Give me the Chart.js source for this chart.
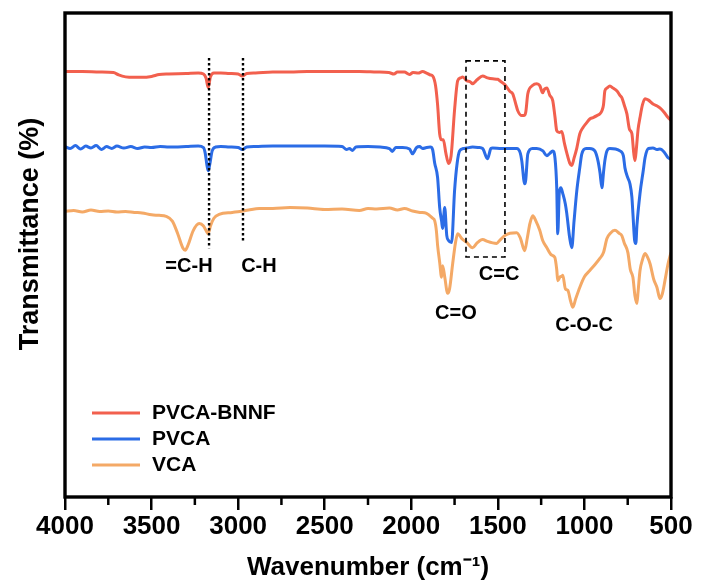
<!DOCTYPE html>
<html>
<head>
<meta charset="utf-8">
<script src="https://cdn.jsdelivr.net/npm/chart.js@4.4.1/dist/chart.umd.min.js"></script>
<style>
  html, body { margin: 0; padding: 0; background: #fff; }
  #wrap { width: 701px; height: 585px; }
</style>
</head>
<body>
<div id="wrap"><canvas id="ftirChart"></canvas></div>
<script>
// [wavenumber (cm-1), transmittance (a.u., offset for stacking)]
const pvcaBnnf = [
  [4000, 87.9], [3900, 87.9], [3800, 87.8], [3720, 87.7], [3690, 87.2], [3650, 86.8], [3600, 86.7],
  [3555, 86.7], [3500, 86.9], [3456, 87.3], [3400, 87.4], [3300, 87.5], [3230, 87.6], [3200, 87.4],
  [3185, 86.5], [3173, 84.6], [3160, 86.8], [3140, 87.6], [3100, 87.6], [3050, 87.5], [3000, 87.4],
  [2976, 87.0], [2950, 87.5], [2900, 87.6], [2800, 87.8], [2700, 87.8], [2600, 87.9], [2500, 87.9],
  [2400, 87.9], [2300, 87.9], [2200, 87.8], [2130, 87.7], [2100, 87.4], [2080, 87.8], [2040, 87.8],
  [2010, 87.3], [1990, 87.7], [1960, 87.6], [1935, 87.9], [1912, 87.6], [1890, 87.2], [1877, 87.0],
  [1860, 85.0], [1848, 81.0], [1836, 75.0], [1825, 73.8], [1815, 73.8], [1800, 71.0], [1785, 68.9],
  [1770, 70.5], [1750, 80.0], [1732, 86.0], [1715, 86.6], [1703, 86.8], [1680, 86.0], [1660, 85.8],
  [1646, 85.4], [1620, 86.2], [1588, 87.0], [1560, 86.6], [1530, 86.4], [1500, 86.3], [1489, 86.0],
  [1460, 85.2], [1430, 83.8], [1414, 83.3], [1395, 81.0], [1385, 79.8], [1362, 78.8], [1350, 78.8],
  [1339, 79.5], [1327, 83.3], [1300, 85.0], [1275, 85.4], [1258, 85.0], [1241, 83.5], [1230, 84.3],
  [1217, 84.5], [1200, 83.0], [1183, 81.9], [1170, 78.5], [1160, 75.7], [1145, 75.3], [1131, 75.5],
  [1115, 73.0], [1102, 71.1], [1085, 69.0], [1073, 68.5], [1060, 70.0], [1044, 72.1], [1027, 75.0],
  [1009, 76.3], [990, 77.2], [969, 78.1], [950, 78.4], [928, 78.8], [910, 79.2], [899, 79.8],
  [890, 81.0], [882, 83.9], [870, 84.5], [853, 84.9], [835, 84.5], [812, 83.9], [795, 83.0],
  [784, 82.5], [770, 81.0], [755, 79.2], [740, 76.0], [726, 75.1], [715, 71.0], [708, 69.5],
  [700, 72.0], [690, 76.0], [679, 78.4], [665, 81.0], [650, 82.3], [630, 82.0], [604, 81.2],
  [580, 80.8], [564, 80.4], [540, 79.5], [517, 78.4], [500, 77.8]
];
const pvca = [
  [4000, 72.4], [3970, 72.0], [3940, 72.6], [3910, 71.9], [3880, 72.5], [3850, 72.1], [3820, 72.6],
  [3790, 71.8], [3760, 72.4], [3730, 72.0], [3700, 72.5], [3660, 72.1], [3620, 72.4], [3580, 72.0],
  [3540, 72.3], [3500, 72.2], [3450, 72.4], [3400, 72.3], [3300, 72.4], [3230, 72.5], [3200, 72.2],
  [3190, 71.0], [3180, 68.5], [3173, 67.4], [3165, 68.5], [3150, 71.5], [3130, 72.3], [3100, 72.4],
  [3050, 72.3], [3000, 72.2], [2976, 71.8], [2950, 72.3], [2900, 72.4], [2800, 72.5], [2700, 72.5],
  [2600, 72.5], [2500, 72.5], [2400, 72.4], [2374, 71.8], [2357, 72.0], [2340, 71.6], [2320, 72.3],
  [2250, 72.4], [2180, 72.3], [2126, 72.0], [2110, 71.4], [2090, 72.2], [2050, 72.2], [2010, 71.9],
  [1993, 70.9], [1970, 72.2], [1952, 72.4], [1935, 72.0], [1912, 72.2], [1890, 72.3], [1877, 71.8],
  [1865, 69.0], [1848, 66.0], [1836, 59.8], [1825, 57.0], [1819, 55.5], [1807, 59.8], [1795, 54.0],
  [1785, 53.0], [1767, 52.6], [1750, 63.3], [1735, 69.0], [1721, 71.5], [1700, 72.0], [1680, 72.1],
  [1646, 72.3], [1610, 72.2], [1588, 72.0], [1560, 69.9], [1540, 72.0], [1530, 72.1], [1480, 72.0],
  [1430, 72.0], [1391, 72.0], [1370, 71.0], [1362, 69.5], [1345, 64.7], [1339, 65.5], [1327, 70.9],
  [1300, 72.0], [1275, 72.0], [1240, 71.5], [1217, 70.5], [1200, 71.0], [1183, 71.5], [1170, 70.0],
  [1160, 63.9], [1154, 54.4], [1145, 63.0], [1136, 63.9], [1125, 62.7], [1110, 60.5], [1102, 58.6],
  [1085, 53.5], [1073, 51.5], [1060, 57.0], [1044, 63.3], [1027, 68.0], [1015, 70.9], [990, 72.0],
  [969, 72.0], [940, 71.5], [922, 69.5], [910, 67.0], [899, 63.9], [890, 67.0], [882, 69.5],
  [870, 71.5], [853, 72.0], [820, 71.9], [795, 71.5], [775, 70.5], [766, 68.0], [750, 66.0],
  [737, 64.7], [726, 62.0], [720, 58.6], [710, 53.0], [703, 52.4], [697, 56.0], [679, 62.7],
  [660, 67.5], [650, 70.1], [630, 72.0], [604, 72.1], [581, 71.8], [564, 71.9], [540, 71.3],
  [517, 70.1], [500, 69.8]
];
const vca = [
  [4000, 59.0], [3950, 59.2], [3900, 58.9], [3850, 59.3], [3800, 59.0], [3750, 59.1], [3700, 58.9],
  [3650, 59.0], [3600, 58.8], [3555, 58.7], [3500, 58.3], [3456, 58.2], [3416, 58.0], [3380, 57.0],
  [3350, 54.5], [3320, 51.5], [3306, 51.0], [3290, 52.0], [3260, 55.0], [3225, 56.5], [3200, 56.0],
  [3185, 55.0], [3173, 54.4], [3160, 56.0], [3140, 57.6], [3110, 58.4], [3034, 58.8], [2990, 59.0],
  [2940, 59.3], [2878, 59.6], [2800, 59.6], [2700, 59.8], [2600, 59.7], [2500, 59.4], [2400, 59.5],
  [2300, 59.2], [2250, 59.6], [2200, 59.5], [2126, 59.7], [2080, 59.3], [2040, 59.6], [1993, 59.1],
  [1950, 58.8], [1912, 58.6], [1877, 57.6], [1865, 57.1], [1855, 55.0], [1848, 52.0], [1836, 48.5],
  [1825, 45.4], [1819, 47.8], [1807, 45.5], [1790, 42.1], [1779, 43.0], [1761, 48.2], [1745, 52.5],
  [1732, 54.4], [1720, 54.0], [1709, 53.4], [1680, 52.6], [1646, 51.5], [1620, 52.5], [1588, 53.2],
  [1560, 52.8], [1530, 52.5], [1507, 52.4], [1490, 53.0], [1460, 54.0], [1430, 54.5], [1391, 54.6],
  [1370, 53.5], [1345, 50.9], [1330, 53.5], [1315, 56.5], [1298, 58.1], [1280, 57.0], [1258, 55.1],
  [1241, 53.0], [1217, 51.5], [1190, 50.0], [1171, 49.5], [1160, 47.0], [1154, 44.7], [1140, 45.5],
  [1131, 45.6], [1125, 45.8], [1110, 43.0], [1096, 42.7], [1080, 40.5], [1067, 39.2], [1050, 41.0],
  [1027, 43.3], [1000, 45.5], [969, 46.8], [940, 48.0], [911, 49.3], [890, 50.5], [870, 53.4],
  [850, 54.5], [824, 55.1], [800, 54.5], [784, 54.0], [770, 52.5], [749, 50.5], [735, 47.0],
  [720, 45.4], [708, 41.5], [697, 40.0], [690, 42.5], [679, 46.8], [665, 49.0], [650, 50.3],
  [635, 49.5], [621, 48.2], [600, 45.0], [581, 43.3], [564, 41.0], [550, 42.0], [535, 44.7],
  [517, 48.2], [500, 50.5]
];

const seriesNames = ['PVCA-BNNF', 'PVCA', 'VCA'];
const seriesColors = ['#F2604E', '#2B6CE6', '#F4A966'];
const minorTicks = [3750, 3250, 2750, 2250, 1750, 1250, 750];

// peak annotations (data units)
const markerWn = [3168, 2972];
const markerTop = [90.7, 90.7];
const markerBottom = [51.4, 52.5];
const boxWn = [1684, 1459];
const boxT = [90.1, 49.6];
const peakLabels = ['=C-H', 'C-H', 'C=C', 'C=O', 'C-O-C'];
const peakLabelWn = [3284, 2880, 1493, 1742, 1002];
const peakLabelT = [47.7, 47.7, 45.9, 38.0, 35.5];

const FONT = 'Arial, "Liberation Sans", Helvetica, sans-serif';

const decor = {
  id: 'decor',
  afterDatasetsDraw(chart) {
    const { ctx, chartArea: a, scales: { x, y } } = chart;
    ctx.save();
    ctx.strokeStyle = '#000';
    ctx.fillStyle = '#000';

    // minor ticks
    ctx.lineWidth = 2.5;
    minorTicks.forEach(w => {
      const px = x.getPixelForValue(w);
      ctx.beginPath();
      ctx.moveTo(px, a.bottom);
      ctx.lineTo(px, a.bottom + 8);
      ctx.stroke();
    });

    // frame
    ctx.lineWidth = 3.4;
    ctx.strokeRect(a.left, a.top, a.right - a.left, a.bottom - a.top);

    // dotted marker lines
    ctx.lineWidth = 2.4;
    ctx.setLineDash([2.5, 2.5]);
    markerWn.forEach((w, i) => {
      const px = x.getPixelForValue(w);
      ctx.beginPath();
      ctx.moveTo(px, y.getPixelForValue(markerTop[i]));
      ctx.lineTo(px, y.getPixelForValue(markerBottom[i]));
      ctx.stroke();
    });

    // dashed box around C=C
    ctx.lineWidth = 1.6;
    ctx.setLineDash([5, 4]);
    const bx1 = x.getPixelForValue(boxWn[0]), bx2 = x.getPixelForValue(boxWn[1]);
    const by1 = y.getPixelForValue(boxT[0]), by2 = y.getPixelForValue(boxT[1]);
    ctx.strokeRect(bx1, by1, bx2 - bx1, by2 - by1);
    ctx.setLineDash([]);

    // peak labels
    ctx.font = 'bold 20px ' + FONT;
    ctx.textAlign = 'center';
    ctx.textBaseline = 'middle';
    peakLabels.forEach((t, i) => {
      ctx.fillText(t, x.getPixelForValue(peakLabelWn[i]), y.getPixelForValue(peakLabelT[i]));
    });

    // legend
    ctx.font = 'bold 21px ' + FONT;
    ctx.textAlign = 'left';
    seriesNames.forEach((name, i) => {
      const ly = 413 + i * 26;
      ctx.strokeStyle = seriesColors[i];
      ctx.lineWidth = 3;
      ctx.beginPath();
      ctx.moveTo(92, ly);
      ctx.lineTo(140, ly);
      ctx.stroke();
      ctx.fillText(name, 152, ly);
    });

    // y-axis title
    ctx.save();
    ctx.translate(31, 234);
    ctx.rotate(-Math.PI / 2);
    ctx.font = 'bold 27px ' + FONT;
    ctx.textAlign = 'center';
    ctx.fillText('Transmittance (%)', 0, 0);
    ctx.restore();

    ctx.restore();
  }
};

const toPoints = arr => arr.map(([w, t]) => ({ x: w, y: t }));

new Chart(document.getElementById('ftirChart'), {
  type: 'line',
  data: {
    datasets: [pvcaBnnf, pvca, vca].map((s, i) => ({
      label: seriesNames[i],
      data: toPoints(s),
      borderColor: seriesColors[i],
      borderWidth: 3,
      pointRadius: 0,
      cubicInterpolationMode: 'monotone',
      fill: false
    }))
  },
  options: {
    responsive: true,
    maintainAspectRatio: false,
    animation: false,
    layout: { padding: { left: 65, right: 30, top: 13, bottom: 0 } },
    plugins: { legend: { display: false }, tooltip: { enabled: false } },
    scales: {
      x: {
        type: 'linear',
        min: 500,
        max: 4000,
        reverse: true,
        afterFit: s => { s.height = 88; },
        border: { display: false },
        grid: { drawOnChartArea: false, drawTicks: true, tickLength: 13, color: '#000', lineWidth: 2.5 },
        ticks: {
          stepSize: 500,
          autoSkip: false,
          maxRotation: 0,
          padding: 1,
          color: '#000',
          font: { family: FONT, size: 26, weight: 'bold' },
          callback: v => String(v)
        },
        title: {
          display: true,
          text: 'Wavenumber (cm\u207B\u00B9)',
          color: '#000',
          font: { family: FONT, size: 26, weight: 'bold' },
          padding: { top: 0, bottom: 2 }
        }
      },
      y: { display: false, min: 0, max: 100 }
    }
  },
  plugins: [decor]
});
</script>
</body>
</html>
